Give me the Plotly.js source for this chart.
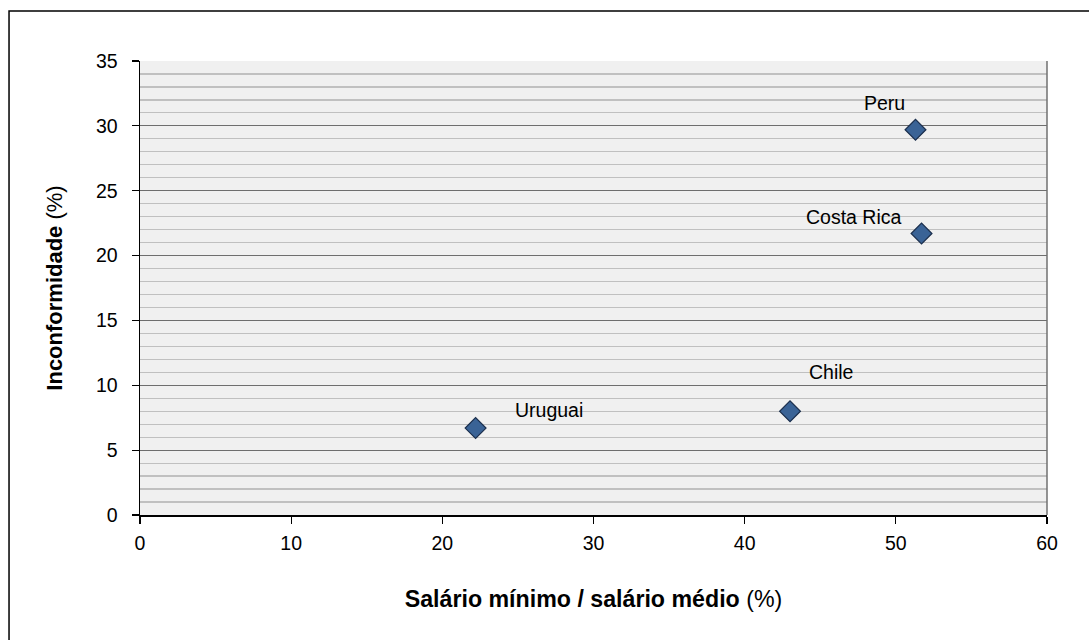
<!DOCTYPE html>
<html>
<head>
<meta charset="utf-8">
<script src="https://cdn.plot.ly/plotly-3.0.1.min.js"></script>
<style>html,body{margin:0;padding:0;background:#fff;}#chart{width:1089px;height:640px;}</style>
</head>
<body>
<div id="chart"></div>
<script>
const countries = ["Uruguai", "Chile", "Peru", "Costa Rica"];
const salarioRatio = [22.2, 43.0, 51.3, 51.7];
const inconformidade = [6.7, 8.0, 29.7, 21.7];
const labelShiftX = [73, 41, -31, -68];
const labelShiftY = [18, 39, 27, 17];

const FONT = "'Liberation Sans', Arial, sans-serif";

const trace = {
  type: "scatter",
  mode: "markers",
  x: salarioRatio,
  y: inconformidade,
  marker: {symbol: "diamond", size: 16, color: "#3a6396", line: {color: "#1b2f4d", width: 1.2}},
  hoverinfo: "x+y"
};

const annotations = countries.map((c, i) => ({
  x: salarioRatio[i], y: inconformidade[i], xref: "x", yref: "y",
  text: c, showarrow: false, xanchor: "center", yanchor: "middle",
  xshift: labelShiftX[i], yshift: labelShiftY[i],
  font: {family: FONT, size: 19.5, color: "#000"}
}));

const layout = {
  width: 1089, height: 640,
  margin: {l: 140, r: 42, t: 61, b: 125},
  paper_bgcolor: "#ffffff",
  plot_bgcolor: "#f0f0f0",
  showlegend: false,
  font: {family: FONT, size: 19.5, color: "#000"},
  xaxis: {
    range: [0, 60], dtick: 10, tick0: 0,
    showgrid: false, zeroline: false,
    showline: true, linecolor: "#000", linewidth: 1.5,
    ticks: "outside", ticklen: 7, tickcolor: "#000", tickwidth: 1.2,
    ticklabelstandoff: 3,
    tickfont: {family: FONT, size: 19.5},
    title: {text: "<b>Salário mínimo / salário médio</b> (%)", font: {family: FONT, size: 23.2}, standoff: 38}
  },
  yaxis: {
    range: [0, 35], dtick: 5, tick0: 0,
    showgrid: true, gridcolor: "#6e6e6e", gridwidth: 1.2,
    zeroline: false,
    showline: true, linecolor: "#000", linewidth: 1.5,
    ticks: "outside", ticklen: 7, tickcolor: "#000", tickwidth: 1.2,
    ticklabelstandoff: 10,
    tickfont: {family: FONT, size: 19.5},
    minor: {dtick: 1, showgrid: true, gridcolor: "#c0c0c0", gridwidth: 1.2, ticks: ""},
    title: {text: "<b>Inconformidade</b> (%)", font: {family: FONT, size: 22}, standoff: 27}
  },
  shapes: [
    {type: "line", xref: "paper", yref: "paper", x0: 1, x1: 1, y0: 0, y1: 1, line: {color: "#707070", width: 1.5}},
    {type: "rect", xref: "paper", yref: "paper", x0: -0.1444, x1: 1.1, y0: -0.35, y1: 1.1101, line: {color: "#000", width: 1.5}, fillcolor: "rgba(0,0,0,0)", layer: "above"}
  ],
  annotations: annotations
};

Plotly.newPlot("chart", [trace], layout, {displayModeBar: false, staticPlot: true});
</script>
</body>
</html>
